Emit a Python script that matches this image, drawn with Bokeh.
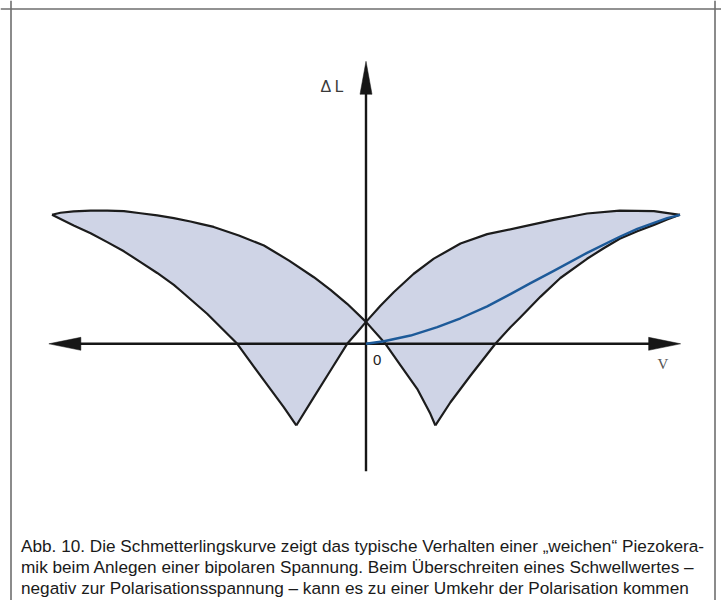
from bokeh.plotting import figure
from bokeh.models import Range1d, Span, Label
from bokeh.embed import file_html
from bokeh.resources import INLINE

# ---------------- data ----------------
# V in arbitrary units (loop tips at +-10), dL in arbitrary units (tips at 10)
# Curve A: left lower branch, left tip -> left cusp
a_v = [-10.0, -9.31, -8.77, -8.24, -7.71, -7.18, -6.65, -6.12, -5.91, -5.06,
       -4.10, -3.25, -2.62, -2.22]
a_dl = [10.0, 9.17, 8.57, 7.88, 7.17, 6.33, 5.49, 4.57, 4.13, 2.33,
        0.0, -2.84, -4.91, -6.33]
# Curve B: left cusp -> crossing -> right tip (upper border of right lobe)
b_v = [-2.22, -1.66, -1.13, -0.60, -0.30, 0.0, 0.46, 0.89, 1.52, 2.16, 3.01,
       3.86, 4.92, 5.98, 7.04, 8.08, 9.17, 10.0]
b_dl = [-6.33, -4.14, -2.07, 0.0, 0.84, 1.70, 2.95, 4.02, 5.43, 6.60, 7.77,
        8.50, 9.04, 9.61, 10.10, 10.33, 10.29, 10.0]
# Curve C: left tip -> crossing -> right cusp (upper border of left lobe)
c_v = [-10.0, -9.73, -9.31, -8.77, -8.24, -7.71, -7.18, -6.65, -6.12, -5.59,
       -5.27, -4.85, -4.05, -3.25, -2.45, -1.66, -1.13, -0.60, 0.0, 0.62,
       1.10, 1.63, 2.05, 2.21]
c_dl = [10.0, 10.16, 10.26, 10.33, 10.33, 10.28, 10.12, 9.95, 9.74, 9.48,
        9.30, 9.06, 8.40, 7.62, 6.45, 5.16, 4.18, 3.10, 1.70, 0.0,
        -1.68, -3.49, -5.43, -6.33]
# Curve D: right cusp -> right tip (lower border of right lobe)
d_v = [2.21, 2.69, 3.33, 4.12, 4.60, 4.92, 5.56, 6.19, 7.04, 7.57, 8.08,
       8.64, 9.17, 9.59, 10.0]
d_dl = [-6.33, -4.53, -2.46, 0.0, 1.29, 2.06, 3.66, 5.10, 6.59, 7.41, 8.14,
        8.73, 9.22, 9.64, 10.0]
# Blue curve: first poling from the origin to the right tip
e_v = [0.0, 0.57, 1.42, 2.27, 3.01, 3.86, 4.60, 5.24, 5.98, 7.04, 8.08,
       8.64, 9.17, 9.59, 10.0]
e_dl = [0.0, 0.20, 0.64, 1.29, 1.98, 2.90, 3.85, 4.70, 5.65, 7.05, 8.30,
        8.91, 9.38, 9.74, 10.0]

# axis extents (arrow tips)
axis_v = [-10.1, 10.02]
axis_dl = [-9.88, 21.9]

x_label = "V"
y_label = "\u0394 L"
origin_label = "0"
caption = [
    "Abb. 10. Die Schmetterlingskurve zeigt das typische Verhalten einer \u201eweichen\u201c Piezokera-",
    "mik beim Anlegen einer bipolaren Spannung. Beim \u00dcberschreiten eines Schwellwertes \u2013",
    "negativ zur Polarisationsspannung \u2013 kann es zu einer Umkehr der Polarisation kommen",
]

# ---------------- layout ----------------
W, H = 721, 600
X0_PX, Y0_PX = 365.5, 343.3   # canvas position of the origin
SX, SY = 31.4, 12.9           # px per data unit


def dx(px):
    return (px - X0_PX) / SX


def dy(py):
    return (Y0_PX - py) / SY


p = figure(width=W, height=H, output_backend="svg", toolbar_location=None,
           x_range=Range1d(dx(0), dx(W)), y_range=Range1d(dy(H), dy(0)),
           x_axis_location=None, y_axis_location=None, min_border=0,
           background_fill_color="white", border_fill_color="white")
p.grid.visible = False
p.outline_line_color = None

# frame border (left, right, top)
FRAME = "#6e6e6e"
p.add_layout(Span(location=dx(10.5), dimension="height", line_color=FRAME, line_width=1.6))
p.add_layout(Span(location=dx(714.5), dimension="height", line_color=FRAME, line_width=1.6))
p.add_layout(Span(location=dy(8.5), dimension="width", line_color=FRAME, line_width=1.6))

FILL = "#cfd4e6"
LINE = "#1c1c1c"

# lobes
ic = c_v.index(0.0)
ib = b_v.index(0.0)
left_x = c_v[:ic + 1] + b_v[:ib + 1][::-1] + a_v[::-1]
left_y = c_dl[:ic + 1] + b_dl[:ib + 1][::-1] + a_dl[::-1]
right_x = b_v[ib:] + d_v[::-1] + c_v[ic:][::-1]
right_y = b_dl[ib:] + d_dl[::-1] + c_dl[ic:][::-1]
p.patches([left_x, right_x], [left_y, right_y], fill_color=FILL, line_color=None)

# axes
AX = "#161616"
hl_x, hw_x = 32 / SX, 6.5 / SY   # horizontal arrowheads
hl_y, hw_y = 33 / SY, 6.0 / SX   # vertical arrowhead
p.line([axis_v[0] + hl_x * 0.9, axis_v[1] - hl_x * 0.9], [0, 0], line_color=AX, line_width=2.4)
p.line([0, 0], [axis_dl[0], axis_dl[1] - hl_y * 0.9], line_color=AX, line_width=2.4)
p.patches(
    [[axis_v[1], axis_v[1] - hl_x, axis_v[1] - hl_x],
     [axis_v[0], axis_v[0] + hl_x, axis_v[0] + hl_x],
     [0, -hw_y, hw_y]],
    [[0, hw_x, -hw_x],
     [0, hw_x, -hw_x],
     [axis_dl[1], axis_dl[1] - hl_y, axis_dl[1] - hl_y]],
    fill_color=AX, line_color=AX, line_width=0.5)

# curves
for xs, ys in [(a_v, a_dl), (b_v, b_dl), (c_v, c_dl), (d_v, d_dl)]:
    p.line(xs, ys, line_color=LINE, line_width=2.2, line_join="round")
p.line(e_v, e_dl, line_color="#1d5a99", line_width=2.4, line_join="round")

# labels
p.add_layout(Label(x=dx(320), y=dy(94), text=y_label, text_font="Liberation Sans",
                   text_font_size="16px", text_color="#3a3a3a"))
p.add_layout(Label(x=dx(372.5), y=dy(364.5), text=origin_label, text_font="Liberation Sans",
                   text_font_size="15px", text_color="#222222"))
p.add_layout(Label(x=dx(657), y=dy(371.7), text=x_label, text_font="Liberation Serif",
                   text_font_size="15px", text_color="#555555"))

for i, line in enumerate(caption):
    p.add_layout(Label(x=dx(20.5), y=dy(555 + 21.2 * i), text=line,
                       text_font="Liberation Sans", text_font_size="17.2px",
                       text_color="#1a1a1a"))

open("out.html", "w").write(file_html(p, INLINE))
